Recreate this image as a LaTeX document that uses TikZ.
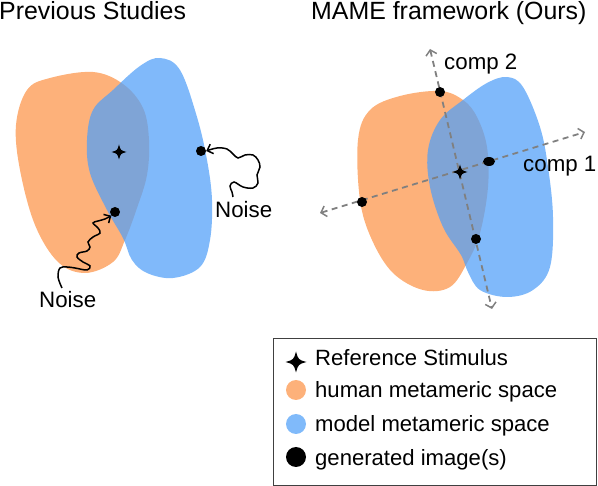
\documentclass[tikz,border=0pt]{standalone}
\usepackage{fontspec}
\setmainfont{Liberation Sans}
\usetikzlibrary{arrows.meta,shapes.geometric}
\definecolor{orng}{RGB}{253,177,122}
\definecolor{blu}{RGB}{82,160,248}
\definecolor{bluw}{RGB}{128,186,250}
\definecolor{axgray}{RGB}{128,128,128}
\tikzset{
  orangeblob/.style={fill=orng},
  blueblob/.style={fill=blu,fill opacity=0.735},
  dot/.style={circle,fill=black,inner sep=0,minimum size=10pt},
  lbl/.style={anchor=base west,inner sep=0,font=\fontsize{22.3}{25}\selectfont},
  ttl/.style={anchor=base west,inner sep=0,font=\fontsize{24.9}{28}\selectfont},
  leg/.style={anchor=base west,inner sep=0,font=\fontsize{22.1}{25}\selectfont},
  squig/.style={line width=1.5pt,-{Straight Barb[length=5pt,width=10pt,line width=1.5pt]}},
  compaxis/.style={draw=axgray,line width=1.8pt,dash pattern=on 6pt off 4.5pt,
     {Straight Barb[length=5pt,width=11pt,line width=1.5pt]}-{Straight Barb[length=5pt,width=11pt,line width=1.5pt]}},
  starpic/.pic={\fill (0,-1) .. controls (0.22,-0.22) .. (1,0) .. controls (0.22,0.22) .. (0,1)
     .. controls (-0.22,0.22) .. (-1,0) .. controls (-0.22,-0.22) .. (0,-1) -- cycle;}
}
\begin{document}
\begin{tikzpicture}[x=1pt,y=-1pt]
\useasboundingbox (0,0) rectangle (598,486);
% titles
\node[ttl] (t1) at (-1,20) {Previous Studies};
\node[ttl] (t2) at (311,20) {MAME framework (Ours)};
% left blobs
\fill[orangeblob] plot[smooth cycle,tension=0.6] coordinates {(16,125) (27,90) (50,78) (93,72) (123,84) (143,108) (149,140) (147,175) (137,208) (125,240) (113,262) (85,273) (58,262) (35,225) (20,170)};
\fill[blueblob] plot[smooth cycle,tension=0.6] coordinates {(160,58) (180,70) (197,117) (207,160) (212,200) (210,240) (200,267) (173,278) (147,273) (132,260) (123,238) (107,210) (90,173) (87,140) (93,110) (113,90) (140,66)};
% right blobs
\fill[orangeblob] plot[smooth cycle,tension=0.6] coordinates {(440,91) (463,100) (477,117) (487,147) (488,187) (480,233) (467,263) (450,287) (423,290) (393,273) (372,240) (360,200) (358,140) (370,110) (400,96)};
\fill[blueblob] plot[smooth cycle,tension=0.6] coordinates {(507,77) (523,87) (540,127) (548,167) (553,217) (550,267) (533,290) (507,297) (480,290) (468,272) (461,255) (443,227) (430,187) (428,150) (440,120) (463,100) (487,83)};
% left panel marks
\path (119,152) pic[scale=7.5] {starpic};
\node[dot] (dL) at (115,212) {};
\node[dot] (dR) at (201,151) {};
\coordinate (sqa) at (62,288);
\coordinate (sqb) at (233,197);
\draw[squig] plot[smooth,tension=0.6] coordinates {(sqa) (58,277) (60,268) (67,267) (75,268) (87,270) (90,266) (83,262) (77,257) (79,253) (87,251) (90,247) (88,242) (93,237) (100,233) (98,228) (93,223) (98,221) (105,219) (dL.south west)};
\draw[squig] plot[smooth,tension=0.6] coordinates {(sqb) (232,192) (230,186) (234,182) (243,187) (253,188) (258,183) (257,175) (260,167) (258,160) (253,155) (245,155) (238,158) (233,154) (227,149) (217,148) (dR.east)};
\node[lbl] (n1) at (39,308) {Noise};
\node[lbl] (n2) at (215,218) {Noise};
% right panel axes
\coordinate (c1a) at (320,213);
\coordinate (c1b) at (585,132);
\coordinate (c2a) at (430,49);
\coordinate (c2b) at (492,309);
\draw[compaxis] (c1a) -- (c1b);
\draw[compaxis] (c2a) -- (c2b);
\node[lbl] (lc2) at (444,70) {comp 2};
\node[lbl] (lc1) at (523,172) {comp 1};
\path (460,172) pic[scale=7.5] {starpic};
\node[dot] (r1) at (440,92) {};
\node[dot] (r2) at (362,202) {};
\node[dot,ellipse,minimum width=12pt,minimum height=9pt] (r3) at (489,161.5) {};
\node[dot] (r4) at (476,239) {};
% legend
\node[draw=black!75,line width=1pt,minimum width=323pt,minimum height=147pt,inner sep=0,anchor=north west] (legbox) at (273,338) {};
\path (296,362) pic[scale=10.5] {starpic};
\node[dot,fill=orng,minimum size=20pt] (lo) at (296,390) {};
\node[dot,fill=bluw,minimum size=20pt] (lb) at (296,424) {};
\node[dot,minimum size=20pt] (lk) at (296,457) {};
\node[leg] (e1) at (315,366) {Reference Stimulus};
\node[leg] (e2) at (315,398) {human metameric space};
\node[leg] (e3) at (315,432) {model metameric space};
\node[leg] (e4) at (315,466) {generated image(s)};
\end{tikzpicture}
\end{document}
